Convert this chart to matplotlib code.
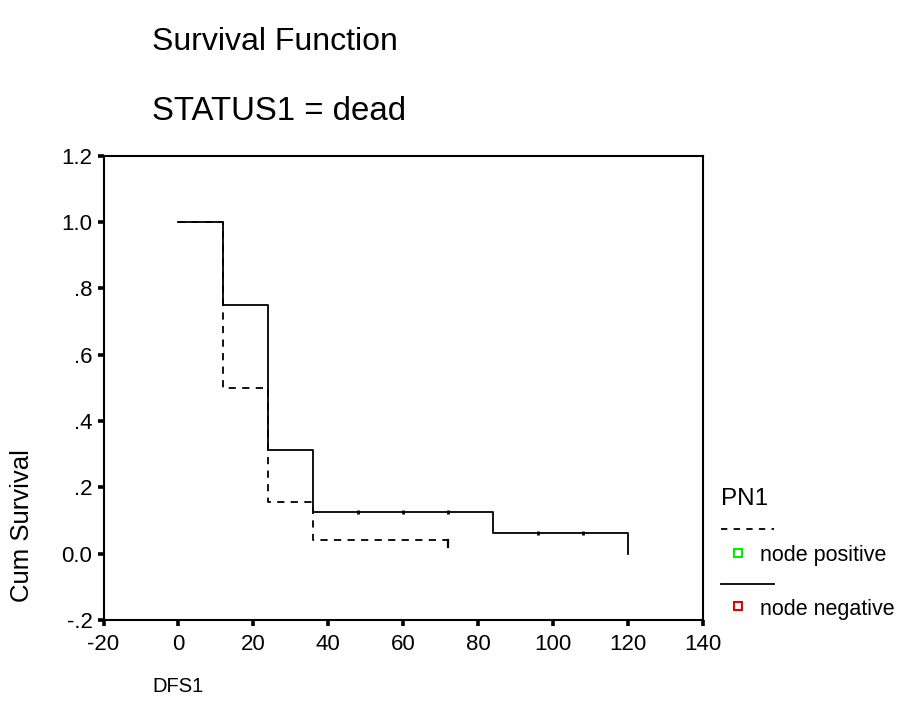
import matplotlib
matplotlib.use("Agg")
import matplotlib.pyplot as plt
from matplotlib.lines import Line2D

plt.rcParams['font.family'] = ['Liberation Sans', 'DejaVu Sans']
plt.rcParams['axes.unicode_minus'] = False

# survival steps (DFS1 in months)
neg_time = [0, 12, 24, 36, 84, 120]
neg_surv = [1.0, 0.75, 0.3125, 0.125, 0.0625, 0.0]
neg_cens_time = [48, 60, 72, 96, 108]
neg_cens_surv = [0.125, 0.125, 0.125, 0.0625, 0.0625]

pos_time = [0, 12, 24, 36, 72]
pos_surv = [1.0, 0.5, 0.156, 0.042, 0.042]
pos_cens_time = [72]
pos_cens_surv = [0.042]

xticks = [-20, 0, 20, 40, 60, 80, 100, 120, 140]
yticks = [-0.2, 0.0, 0.2, 0.4, 0.6, 0.8, 1.0, 1.2]
ytick_labels = ['-.2', '0.0', '.2', '.4', '.6', '.8', '1.0', '1.2']
groups = ['node positive', 'node negative']
group_colors = ['#00ee00', '#ee0000']

W, H = 898, 725
fig = plt.figure(figsize=(W / 100, H / 100), dpi=100)

def fx(px):
    return px / W

def fy(py):
    return 1 - py / H

ax = fig.add_axes([fx(103.5), fy(620), fx(703) - fx(103.5), fy(155.7) - fy(620)])

ax.step(neg_time, neg_surv, where='post', color='black', lw=1.3)
ax.step(pos_time, pos_surv, where='post', color='black', lw=1.3, dashes=(4, 3.5))

# censor marks
ax.plot(neg_cens_time, neg_cens_surv, ls='none', marker='|', ms=3.5, mew=2, color='black')
for t, s in zip(pos_cens_time, pos_cens_surv):
    ax.plot([t, t], [s, s - 0.022], color='black', lw=1.6)

ax.set_xlim(-20, 140)
ax.set_ylim(-0.2, 1.2)
ax.set_xticks(xticks)
ax.set_yticks(yticks)
ax.set_yticklabels(ytick_labels)
for sp in ax.spines.values():
    sp.set_linewidth(1.5)
ax.tick_params(direction='out', length=4, width=2.6, labelsize=16, pad=4)
ax.tick_params(axis='x', pad=6)

# titles and axis labels
fig.text(fx(152), fy(50), 'Survival Function', fontsize=23, va='baseline', ha='left')
fig.text(fx(152), fy(120), 'STATUS1 = dead', fontsize=23.8, va='baseline', ha='left')
fig.text(fx(22), fy(526), 'Cum Survival', fontsize=18.5, rotation=90, va='center', ha='center')
fig.text(fx(152), fy(687), 'DFS1', fontsize=14.5, va='center', ha='left')

# legend
fig.text(fx(721), fy(499), 'PN1', fontsize=17.5, va='center', ha='left')
fig.add_artist(Line2D([fx(721), fx(774)], [fy(529), fy(529)], transform=fig.transFigure,
                      color='black', lw=1.3, dashes=(3.5, 3.5)))
fig.add_artist(Line2D([fx(721), fx(774)], [fy(584), fy(584)], transform=fig.transFigure,
                      color='black', lw=1.3))
for g, c, my in zip(groups, group_colors, [553, 606]):
    fig.add_artist(Line2D([fx(738)], [fy(my)], transform=fig.transFigure, ls='none',
                          marker='s', ms=5.5, mfc='white', mec=c, mew=1.5))
    fig.text(fx(760), fy(my + 3), g, fontsize=15.5, va='center', ha='left')

fig.savefig('out.png', dpi=100)
